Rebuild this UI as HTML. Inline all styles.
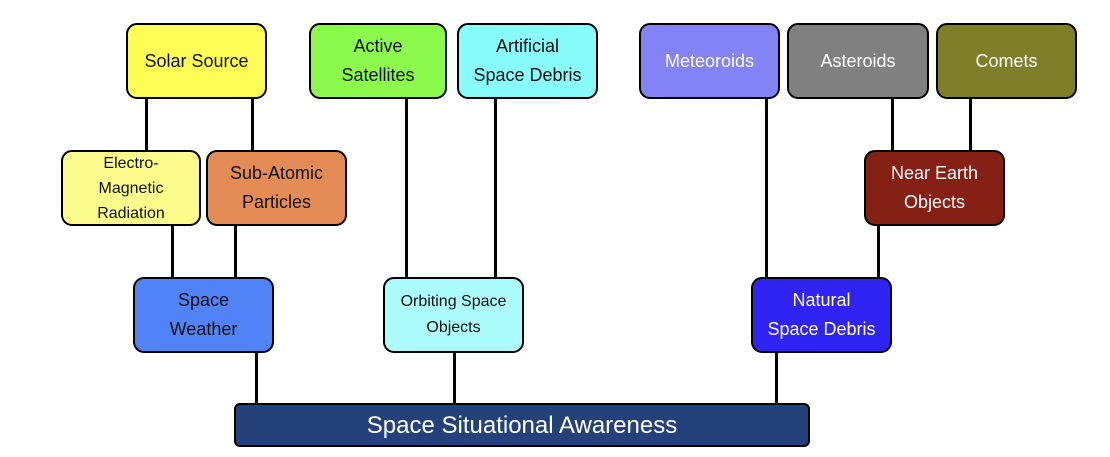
<!DOCTYPE html>
<html><head><style>
body{margin:0;width:1110px;height:457px;background:#fff;position:relative;overflow:hidden;font-family:"Liberation Sans",sans-serif}
.b{position:absolute;box-sizing:border-box;border:2px solid #000;border-radius:11px;display:flex;align-items:center;justify-content:center;text-align:center;font-size:18px;line-height:29px;color:#111}
.w{color:#fff}
.l{position:absolute;background:#000;width:3px}
</style></head><body>
<div class="l" style="left:145px;top:96px;height:56px"></div>
<div class="l" style="left:251px;top:96px;height:56px"></div>
<div class="l" style="left:171px;top:223px;height:56px"></div>
<div class="l" style="left:234px;top:223px;height:56px"></div>
<div class="l" style="left:405px;top:96px;height:183px"></div>
<div class="l" style="left:494px;top:96px;height:183px"></div>
<div class="l" style="left:765px;top:96px;height:183px"></div>
<div class="l" style="left:891px;top:96px;height:56px"></div>
<div class="l" style="left:969px;top:96px;height:56px"></div>
<div class="l" style="left:877px;top:223px;height:56px"></div>
<div class="l" style="left:255px;top:350px;height:55px"></div>
<div class="l" style="left:453px;top:350px;height:55px"></div>
<div class="l" style="left:775px;top:350px;height:55px"></div>

<div class="b" style="left:126px;top:23px;width:141px;height:76px;background:#fdfd55">Solar Source</div>
<div class="b" style="left:309px;top:23px;width:138px;height:76px;background:#8bfa4c">Active<br>Satellites</div>
<div class="b" style="left:457px;top:23px;width:141px;height:76px;background:#88fbfb">Artificial<br>Space Debris</div>
<div class="b w" style="left:639px;top:23px;width:141px;height:76px;background:#8383f5">Meteoroids</div>
<div class="b w" style="left:787px;top:23px;width:142px;height:76px;background:#808080">Asteroids</div>
<div class="b w" style="left:936px;top:23px;width:141px;height:76px;background:#7f7f2a">Comets</div>
<div class="b" style="left:61px;top:150px;width:140px;height:76px;background:#fbfb8c;font-size:16px;line-height:25px">Electro-<br>Magnetic<br>Radiation</div>
<div class="b" style="left:206px;top:150px;width:141px;height:76px;background:#e48c55">Sub-Atomic<br>Particles</div>
<div class="b w" style="left:864px;top:150px;width:141px;height:76px;background:#842014">Near Earth<br>Objects</div>
<div class="b" style="left:133px;top:277px;width:141px;height:76px;background:#4f83f7">Space<br>Weather</div>
<div class="b" style="left:383px;top:277px;width:141px;height:76px;background:#adfcfc;font-size:16px;line-height:26px">Orbiting Space<br>Objects</div>
<div class="b w" style="left:751px;top:277px;width:141px;height:76px;background:#3024f5">Natural<br>Space Debris</div>
<div class="b w" style="left:234px;top:403px;width:576px;height:44px;background:#24417a;border-radius:6px;font-size:24px">Space Situational Awareness</div>
</body></html>
